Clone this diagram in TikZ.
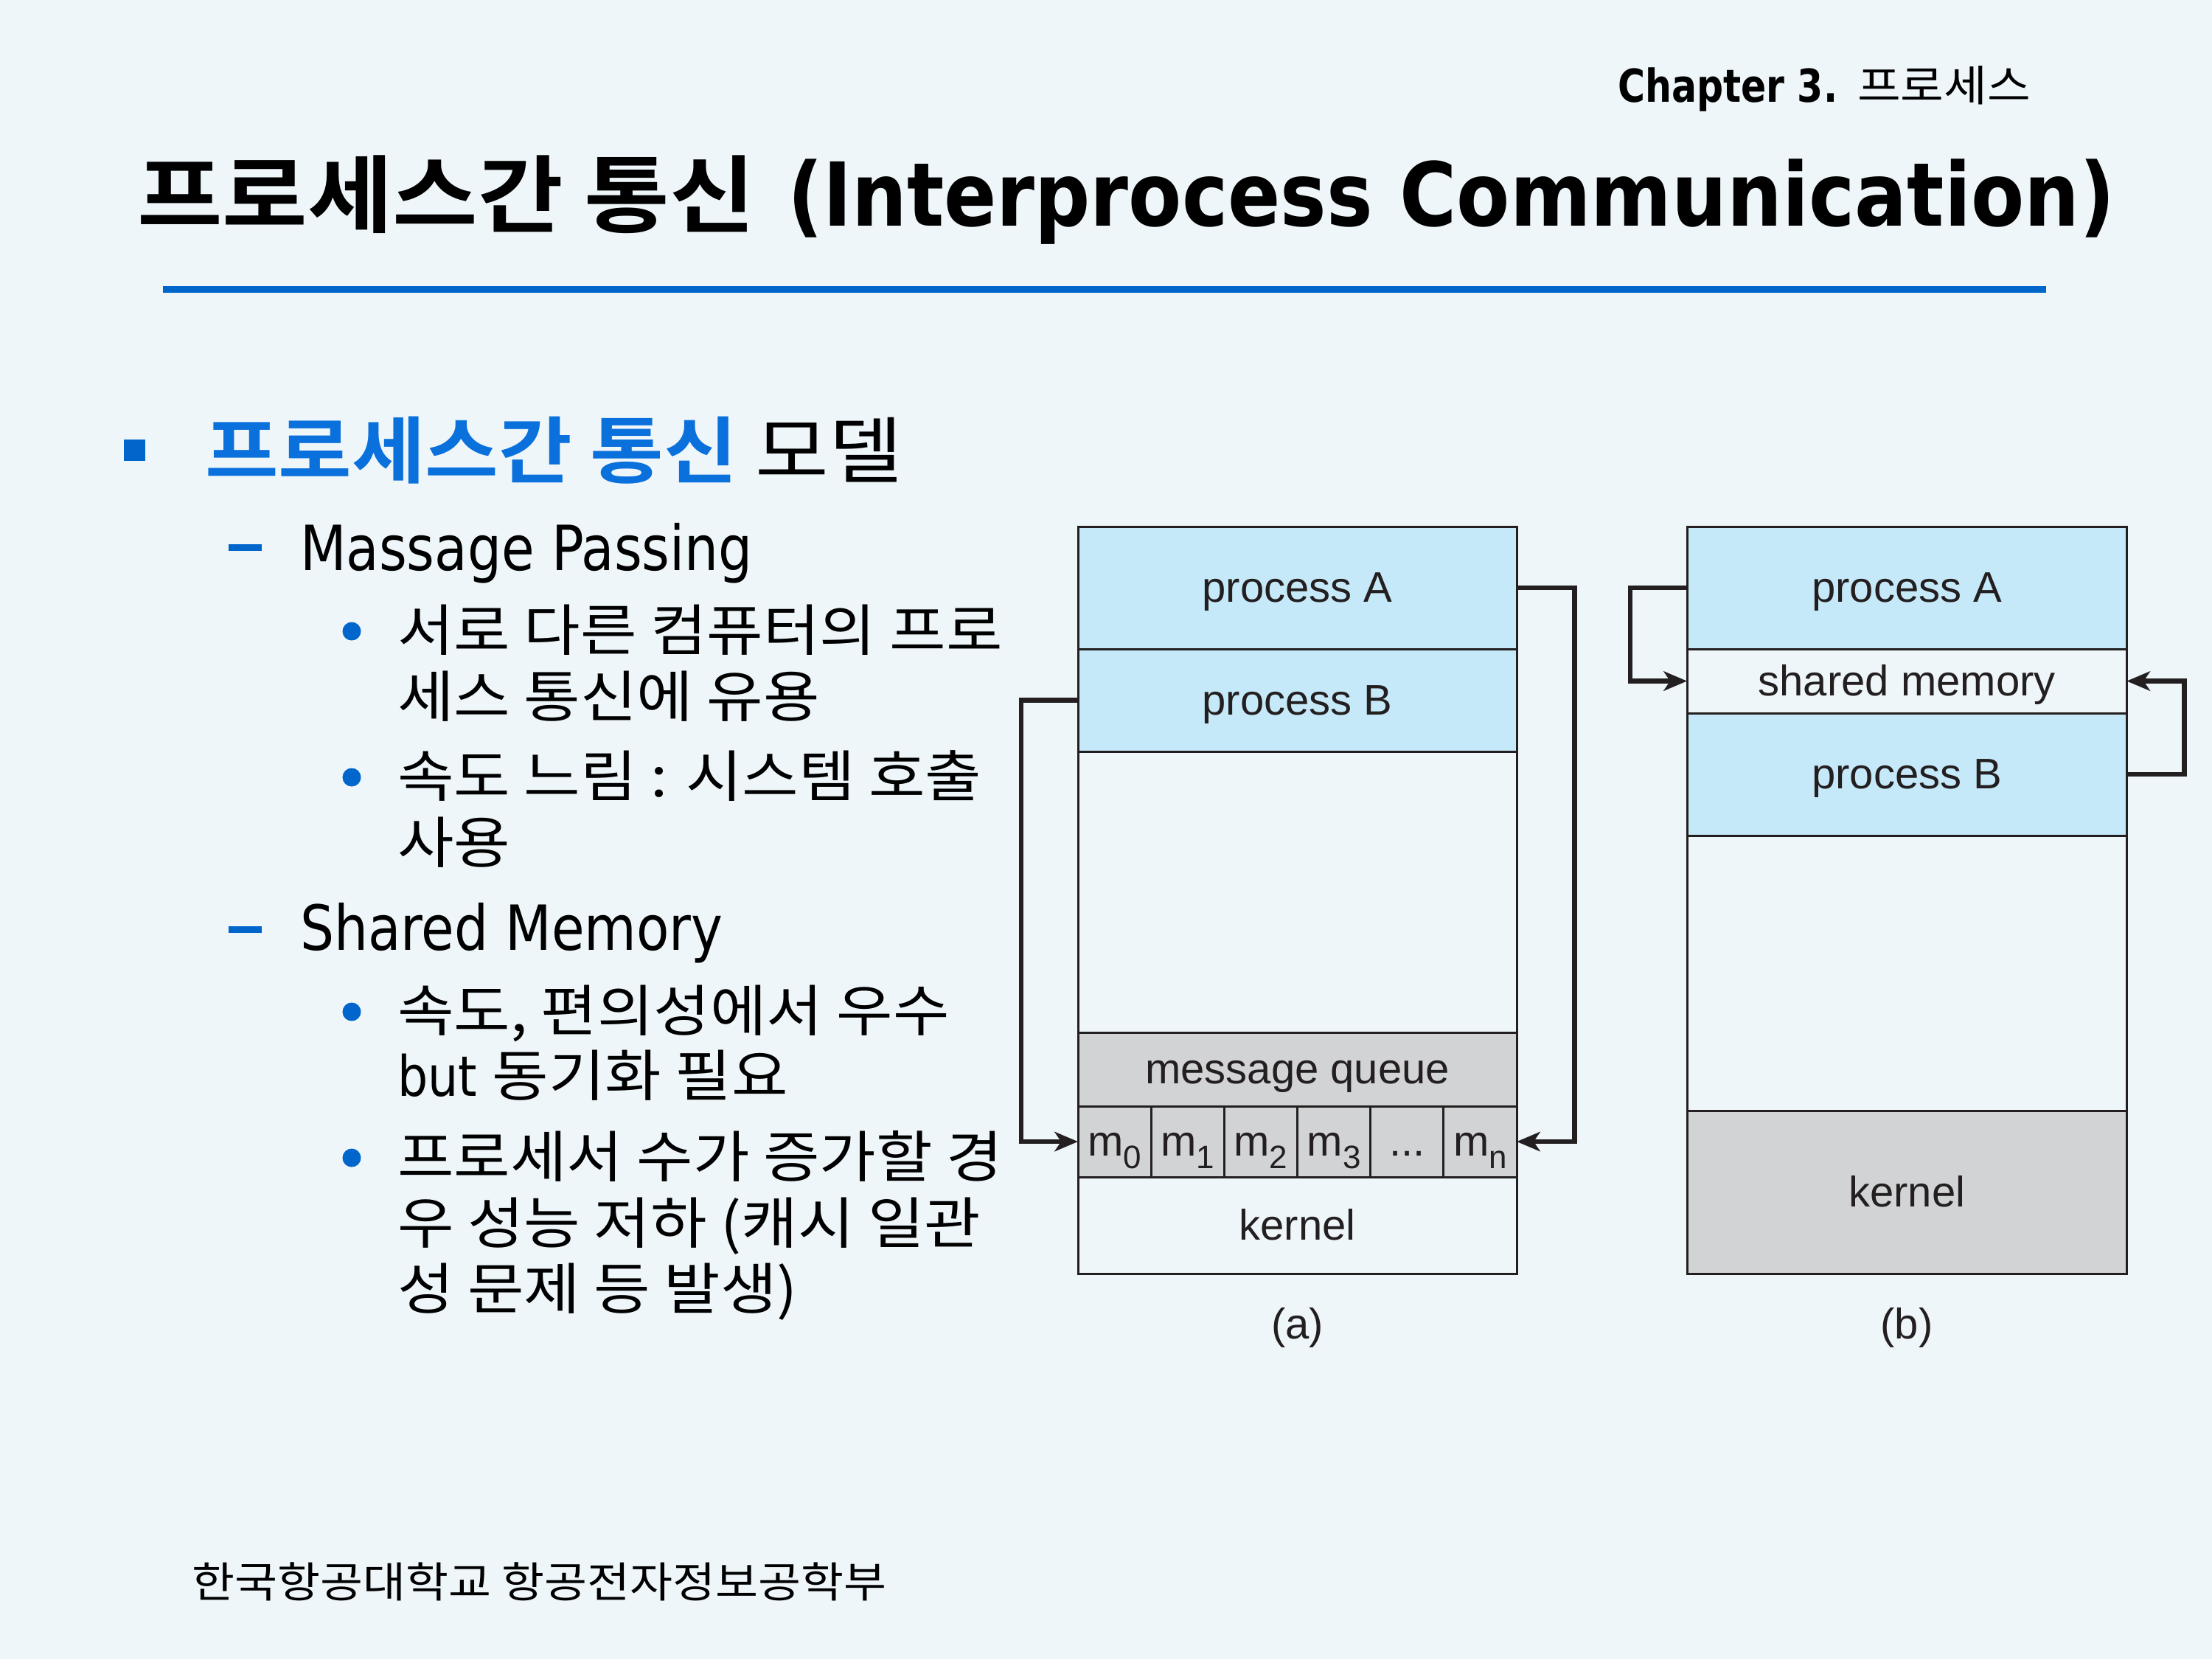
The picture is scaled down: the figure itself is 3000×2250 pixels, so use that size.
\documentclass[tikz,border=0pt]{standalone}
\usepackage{fontspec}
\usetikzlibrary{arrows.meta}

% fonts
\newfontfamily\krfont{Noto Sans CJK KR}[BoldFont={Noto Sans CJK KR Bold}, FakeStretch=1.1]
\newfontfamily\enfont{DejaVu Sans}[FakeStretch=0.86]
\newfontfamily\enhead{DejaVu Sans}[FakeStretch=0.82]
\newfontfamily\entitle{DejaVu Sans}[FakeStretch=0.88]
\newfontfamily\figfont{Liberation Sans}
\newcommand\figtext{\figfont\fontsize{16.5pt}{16.5pt}\selectfont}
\newcommand\bodykr{\krfont\fontsize{21.5pt}{21.5pt}\selectfont}
\newcommand\bodyen{\enfont\fontsize{21.5pt}{21.5pt}\selectfont}
\newcommand\msub[1]{m\raisebox{-0.28em}{\fontsize{12.5pt}{12.5pt}\selectfont #1}}

% colours
\definecolor{slidebg}{RGB}{238,246,250}
\definecolor{procfill}{RGB}{198,233,249}
\definecolor{kernfill}{RGB}{209,211,213}
\definecolor{ink}{RGB}{35,31,32}
\definecolor{accent}{RGB}{0,102,204}
\definecolor{headblue}{RGB}{10,112,220}

\tikzset{
  region/.style={draw=ink, line width=0.85pt, inner sep=0pt, outer sep=0pt,
    anchor=north west, font=\figtext, text=ink,
    text height=13.9pt, text depth=2.6pt},
  arr/.style={draw=ink, line width=1.9pt,
    -{Stealth[length=9pt,width=7.5pt,inset=2.5pt]}},
  line/.style={anchor=base west, inner sep=0pt, outer sep=0pt},
  dot/.style={fill=accent},
}

\begin{document}
\begin{tikzpicture}[x=0.01cm, y=-0.01cm]
\fill[slidebg] (0,0) rectangle (3000,2250);
\useasboundingbox (0,0) rectangle (3000,2250);

% ---------- header ----------
\node[line] (chap) at (2194,138)
  {\enhead\bfseries\fontsize{17.5pt}{17.5pt}\selectfont Chapter 3.};
\node[line] (chapkr) at (2519,137)
  {\krfont\fontsize{16.5pt}{16.5pt}\selectfont 프로세스};

\node[line] (titlekr) at (186,306)
  {\krfont\bfseries\fontsize{32.5pt}{32.5pt}\selectfont 프로세스간 통신};
\node[line] (titleen) at (1068,306)
  {\entitle\bfseries\fontsize{34pt}{34pt}\selectfont (Interprocess Communication)};
\fill[accent] (221,388) rectangle (2775,397);

% ---------- outline text ----------
\fill[dot] (168,596) rectangle (197,625);
\node[line] (lvl1) at (278,647)
  {\krfont\fontsize{28pt}{28pt}\selectfont{\bfseries\color{headblue}프로세스간 통신} 모델};

\fill[dot] (310,738) rectangle (355,747);
\node[line] (mp) at (407,773) {\enfont\fontsize{24pt}{24pt}\selectfont Massage Passing};

\fill[dot] (477,856) circle (0.125cm);
\node[line] (mpa1) at (539,882) {\bodykr 서로 다른 컴퓨터의 프로};
\node[line] (mpa2) at (539,972) {\bodykr 세스 통신에 유용};
\fill[dot] (477,1054) circle (0.125cm);
\node[line] (mpb1) at (539,1080) {\bodykr 속도 느림 : 시스템 호출};
\node[line] (mpb2) at (539,1170) {\bodykr 사용};

\fill[dot] (310,1256) rectangle (355,1265);
\node[line] (sm) at (407,1288) {\enfont\fontsize{24pt}{24pt}\selectfont Shared Memory};

\fill[dot] (477,1372) circle (0.125cm);
\node[line] (sma1) at (539,1398) {\bodykr 속도, 편의성에서 우수};
\node[line] (sma2) at (539,1486) {\bodyen but {\bodykr 동기화 필요}};
\fill[dot] (477,1570) circle (0.125cm);
\node[line] (smb1) at (539,1596) {\bodykr 프로세서 수가 증가할 경};
\node[line] (smb2) at (539,1686) {\bodykr 우 성능 저하 (캐시 일관};
\node[line] (smb3) at (539,1775) {\bodykr 성 문제 등 발생)};

% ---------- footer ----------
\node[line] (foot) at (260,2166)
  {\krfont\fontsize{16.3pt}{16.3pt}\selectfont 한국항공대학교 항공전자정보공학부};

% ---------- (a) message passing ----------
\node[region, fill=procfill, minimum width=5.95cm, minimum height=1.66cm] (aA) at (1462,714) {process A};
\node[region, fill=procfill, minimum width=5.95cm, minimum height=1.39cm] (aB) at (1462,880) {process B};
\node[region, minimum width=5.95cm, minimum height=3.81cm] (aF) at (1462,1019) {};
\node[region, fill=kernfill, minimum width=5.95cm, minimum height=1.00cm] (aQ) at (1462,1400) {message queue};
\foreach \i/\lbl in {0/\msub{0},1/\msub{1},2/\msub{2},3/\msub{3},4/{...},5/\msub{n}}
  \node[region, fill=kernfill, minimum width=0.99167cm, minimum height=0.96cm]
    (m\i) at ({1462+99.1667*\i},1500) {\lbl};
\node[region, minimum width=5.95cm, minimum height=1.31cm] (aK) at (1462,1596) {kernel};
\node[font=\figtext, text=ink, inner sep=0pt] (aL) at (1759.5,1800) {(a)};

\draw[arr] (aB.west) -- ++(-77,0) |- (m0.west);
\draw[arr] (aA.east) -- ++(78,0) |- (m5.east);

% ---------- (b) shared memory ----------
\node[region, fill=procfill, minimum width=5.96cm, minimum height=1.66cm] (bA) at (2288,714) {process A};
\node[region, minimum width=5.96cm, minimum height=0.87cm] (bS) at (2288,880) {shared memory};
\node[region, fill=procfill, minimum width=5.96cm, minimum height=1.66cm] (bB) at (2288,967) {process B};
\node[region, minimum width=5.96cm, minimum height=3.73cm] (bF) at (2288,1133) {};
\node[region, fill=kernfill, minimum width=5.96cm, minimum height=2.21cm] (bK) at (2288,1506) {kernel};
\node[font=\figtext, text=ink, inner sep=0pt] (bL) at (2586,1800) {(b)};

\draw[arr] (bA.west) -- ++(-77,0) |- (bS.west);
\draw[arr] (bB.east) -- ++(78,0) |- (bS.east);
\end{tikzpicture}
\end{document}
